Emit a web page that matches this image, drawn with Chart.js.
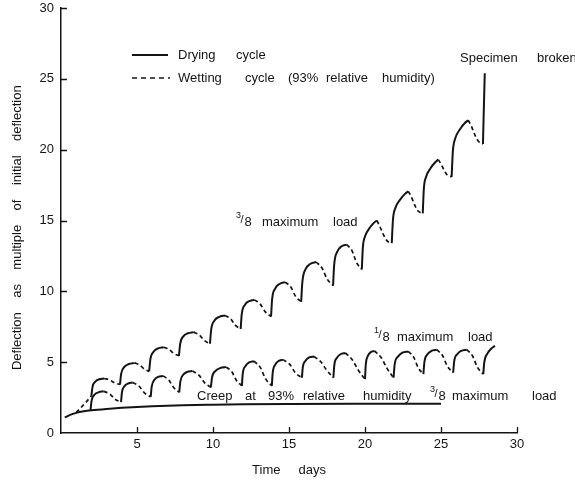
<!DOCTYPE html>
<html><head><meta charset="utf-8">
<script src="https://cdn.jsdelivr.net/npm/chart.js@4"></script>
<style>html,body{margin:0;padding:0;background:#fff}#wrap{width:575px;height:480px;position:relative}</style>
</head><body><div id="wrap"><canvas id="c"></canvas></div>
<script>
// ---- tick values ----
const xTicks = [0, 5, 10, 15, 20, 25, 30];
const yTicks = [0, 5, 10, 15, 20, 25, 30];

// ---- 3/8 maximum load curve (d = drying segment follows, w = wetting segment follows) ----
const upperX = [1.0, 1.5,
  2.0, 2.07, 2.26, 2.51, 2.85, 3.21, 3.52,
  3.88, 3.96, 4.17, 4.46, 4.85, 5.18, 5.47,
  5.8, 5.88, 6.09, 6.38, 6.76, 7.11, 7.41,
  7.76, 7.84, 8.05, 8.34, 8.73, 9.10, 9.43,
  9.8, 9.88, 10.10, 10.40, 10.8, 11.16, 11.46,
  11.82, 11.89, 12.09, 12.36, 12.72, 13.11, 13.44,
  13.82, 13.89, 14.10, 14.38, 14.75, 15.12, 15.43,
  15.8, 15.88, 16.09, 16.39, 16.78, 17.17, 17.51,
  17.9, 17.97, 18.17, 18.44, 18.8, 19.15, 19.44,
  19.79, 19.86, 20.01, 20.29, 20.58, 20.78, 20.98, 21.21, 21.44,
  21.76, 21.84, 22.00, 22.31, 22.63, 22.85, 23.06, 23.27, 23.49,
  23.8, 23.87, 24.02, 24.31, 24.62, 24.82, 25.01, 25.21, 25.41,
  25.7, 25.78, 25.94, 26.25, 26.57, 26.79, 27.01, 27.23, 27.47,
  27.76, 27.82, 27.88];
const upperY = [1.45, 2.0,
  2.62, 3.24, 3.63, 3.79, 3.85, 3.74, 3.54,
  3.42, 4.19, 4.67, 4.87, 4.95, 4.80, 4.52,
  4.35, 5.20, 5.74, 5.97, 6.05, 5.90, 5.62,
  5.45, 6.29, 6.82, 7.04, 7.12, 6.92, 6.53,
  6.3, 7.30, 7.94, 8.20, 8.3, 8.06, 7.62,
  7.34, 8.37, 9.03, 9.30, 9.4, 9.10, 8.55,
  8.22, 9.44, 10.21, 10.52, 10.65, 10.30, 9.65,
  9.26, 10.67, 11.56, 11.93, 12.07, 11.65, 10.87,
  10.4, 11.85, 12.78, 13.16, 13.3, 12.86, 12.04,
  11.55, 13.10, 13.90, 14.45, 14.83, 15.0, 14.57, 14.01, 13.58,
  13.4, 15.05, 15.89, 16.47, 16.88, 17.06, 16.64, 16.09, 15.67,
  15.5, 17.21, 18.08, 18.69, 19.11, 19.3, 18.97, 18.54, 18.21,
  18.08, 19.88, 20.8, 21.44, 21.88, 22.08, 21.63, 21.04, 20.58,
  20.4, 23.0, 25.4];
const upperPhase = 'ww ' +
  'ddddwww ddddwww ddddwww ddddwww ddddwww ddddwww ddddwww ddddwww ddddwww ' +
  'dddddwwww dddddwwww dddddwwww dddddwwww ' +
  'ddd';

// ---- 1/8 maximum load curve ----
const lowerX = [1.94, 2.01, 2.20, 2.46, 2.81, 3.21, 3.55,
  3.95, 4.01, 4.18, 4.41, 4.72, 5.13, 5.49,
  5.9, 5.97, 6.15, 6.39, 6.72, 7.09, 7.41,
  7.78, 7.85, 8.04, 8.30, 8.65, 9.07, 9.44,
  9.86, 9.94, 10.17, 10.47, 10.88, 11.24, 11.54,
  11.9, 11.96, 12.14, 12.38, 12.7, 13.11, 13.46,
  13.87, 13.93, 14.09, 14.31, 14.6, 15.04, 15.41,
  15.85, 15.91, 16.09, 16.33, 16.65, 17.09, 17.48,
  17.92, 17.98, 18.15, 18.39, 18.7, 19.15, 19.55,
  20.0, 20.05, 20.19, 20.37, 20.62, 21.06, 21.44,
  21.88, 21.95, 22.17, 22.46, 22.85, 23.2, 23.5,
  23.84, 23.91, 24.1, 24.37, 24.72, 25.1, 25.42,
  25.8, 25.87, 26.07, 26.33, 26.69, 27.07, 27.4,
  27.78, 27.85, 28.05, 28.3, 28.55];
const lowerY = [1.6, 2.27, 2.70, 2.87, 2.94, 2.75, 2.39,
  2.18, 2.87, 3.31, 3.49, 3.56, 3.31, 2.83,
  2.55, 3.29, 3.76, 3.96, 4.03, 3.74, 3.21,
  2.87, 3.63, 4.11, 4.31, 4.38, 4.09, 3.56,
  3.22, 3.94, 4.39, 4.58, 4.65, 4.32, 3.71,
  3.33, 4.20, 4.73, 4.98, 5.07, 4.63, 3.82,
  3.33, 4.26, 4.81, 5.08, 5.18, 4.86, 4.26,
  3.9, 4.65, 5.10, 5.33, 5.4, 5.03, 4.43,
  3.9, 4.78, 5.30, 5.56, 5.65, 5.19, 4.45,
  3.8, 4.80, 5.44, 5.70, 5.8, 5.33, 4.58,
  3.9, 4.83, 5.39, 5.67, 5.76, 5.36, 4.60,
  4.15, 5.02, 5.54, 5.79, 5.88, 5.47, 4.71,
  4.26, 5.07, 5.56, 5.80, 5.88, 5.45, 4.63,
  4.15, 5.0, 5.6, 5.95, 6.15];
const lowerPhase = 'ddddwww ddddwww ddddwww ddddwww ddddwww ddddwww ddddwww ' +
  'ddddwww ddddwww ddddwww ddddwww ddddwww ddddwww ddddd';

// ---- creep at 93% relative humidity, 3/8 maximum load ----
const creepX = [0.25, 0.6, 1.0, 1.5, 2.0, 3.0, 4.0, 5.0, 6.0, 8.0, 10, 12, 15, 20, 25];
const creepY = [1.1, 1.28, 1.42, 1.53, 1.6, 1.7, 1.78, 1.84, 1.89, 1.96, 2.0, 2.03, 2.05, 2.06, 2.06];

const FONT = "'Liberation Sans', Arial, Helvetica, sans-serif";
const INK = '#141414';

function pieces(xs, ys, phase, which) {
  const p = phase.replace(/\s+/g, '');
  const out = [];
  let last = -1;
  for (let i = 0; i < xs.length - 1; i++) {
    if (p[i] !== which) continue;
    if (last !== i) {
      if (out.length) out.push({x: xs[i], y: null});
      out.push({x: xs[i], y: ys[i]});
    }
    out.push({x: xs[i + 1], y: ys[i + 1]});
    last = i + 1;
  }
  return out;
}

const base = {borderColor: INK, pointRadius: 0, fill: false, spanGaps: false,
  cubicInterpolationMode: 'monotone'};
const datasets = [
  Object.assign({label: 'Drying cycle 3/8', data: pieces(upperX, upperY, upperPhase, 'd'), borderWidth: 2}, base),
  Object.assign({label: 'Wetting cycle 3/8', data: pieces(upperX, upperY, upperPhase, 'w'), borderWidth: 1.7, borderDash: [4, 3]}, base),
  Object.assign({label: 'Drying cycle 1/8', data: pieces(lowerX, lowerY, lowerPhase, 'd'), borderWidth: 2}, base),
  Object.assign({label: 'Wetting cycle 1/8', data: pieces(lowerX, lowerY, lowerPhase, 'w'), borderWidth: 1.7, borderDash: [4, 3]}, base),
  Object.assign({label: 'Creep', data: creepX.map((x, i) => ({x, y: creepY[i]})), borderWidth: 2}, base)
];

function words(ctx, list, y, size) {
  ctx.font = size + 'px ' + FONT;
  list.forEach(([t, x]) => ctx.fillText(t, x, y));
}
function frac(ctx, num, den, x, y) {
  ctx.font = '9px ' + FONT; ctx.fillText(num, x, y - 5);
  ctx.font = '11px ' + FONT; ctx.fillText('/', x + 4.5, y - 1);
  ctx.font = '13px ' + FONT; ctx.fillText(den, x + 8.5, y + 1);
}

const decor = {
  id: 'decor',
  afterDraw(chart) {
    const ctx = chart.ctx, xs = chart.scales.x, ys = chart.scales.y;
    ctx.save();
    // inward tick marks
    ctx.strokeStyle = INK; ctx.lineWidth = 1.3;
    ctx.beginPath();
    xTicks.forEach(v => { if (v > 0) { const p = Math.round(xs.getPixelForValue(v)) + 0.5; ctx.moveTo(p, ys.bottom); ctx.lineTo(p, ys.bottom - 6); } });
    yTicks.forEach(v => { if (v > 0) { const p = Math.round(ys.getPixelForValue(v)) + 0.5; ctx.moveTo(xs.left, p); ctx.lineTo(xs.left + 6, p); } });
    ctx.stroke();
    // legend samples
    ctx.lineWidth = 2; ctx.beginPath(); ctx.moveTo(132, 55); ctx.lineTo(168, 55); ctx.stroke();
    ctx.lineWidth = 1.5; ctx.setLineDash([5, 4]); ctx.beginPath(); ctx.moveTo(132, 78); ctx.lineTo(170, 78); ctx.stroke();
    ctx.setLineDash([]);
    // texts
    ctx.fillStyle = INK; ctx.textBaseline = 'middle'; ctx.textAlign = 'left';
    words(ctx, [['Drying', 178], ['cycle', 236]], 55, 13);
    words(ctx, [['Wetting', 178], ['cycle', 245], ['(93%', 288], ['relative', 326], ['humidity)', 382]], 78, 13);
    words(ctx, [['Specimen', 460], ['broken', 537]], 58, 13);
    frac(ctx, '3', '8', 236, 221);
    words(ctx, [['maximum', 262], ['load', 333]], 222, 13);
    frac(ctx, '1', '8', 374, 336);
    words(ctx, [['maximum', 397], ['load', 468]], 337, 13);
    words(ctx, [['Creep', 197], ['at', 245], ['93%', 268], ['relative', 303], ['humidity', 363]], 396, 13);
    frac(ctx, '3', '8', 430, 395);
    words(ctx, [['maximum', 452], ['load', 532]], 396, 13);
    ctx.restore();
  }
};

Chart.defaults.font.family = FONT;
Chart.defaults.color = INK;

new Chart(document.getElementById('c'), {
  type: 'line',
  data: {datasets},
  plugins: [decor],
  options: {
    animation: false, responsive: true, maintainAspectRatio: false, devicePixelRatio: 1,
    layout: {padding: {top: 8, right: 58, left: 0, bottom: 0}},
    plugins: {legend: {display: false}, tooltip: {enabled: false}},
    scales: {
      x: {
        type: 'linear', min: 0, max: 30,
        afterBuildTicks: s => { s.ticks = xTicks.map(v => ({value: v})); },
        afterFit: s => { s.height = 47; s.paddingLeft = 0; s.paddingRight = 0; },
        ticks: {callback: v => (v === 0 ? '' : String(v)), font: {size: 13}, color: INK, padding: 4, maxRotation: 0, autoSkip: false},
        grid: {display: false, drawTicks: false},
        border: {display: true, color: INK, width: 1.5},
        title: {display: true, text: 'Time     days', font: {size: 13}, color: INK, padding: {top: 0, bottom: 2}}
      },
      y: {
        type: 'linear', min: 0, max: 30,
        afterBuildTicks: s => { s.ticks = yTicks.map(v => ({value: v})); },
        afterFit: s => { s.width = 61; s.paddingTop = 0; s.paddingBottom = 0; },
        ticks: {font: {size: 13}, color: INK, padding: 7, autoSkip: false},
        grid: {display: false, drawTicks: false},
        border: {display: true, color: INK, width: 1.5},
        title: {display: true, text: 'Deflection    as    multiple    of    initial    deflection    ', font: {size: 13}, color: INK, padding: {top: 10, bottom: 0}}
      }
    }
  }
});
</script></body></html>
